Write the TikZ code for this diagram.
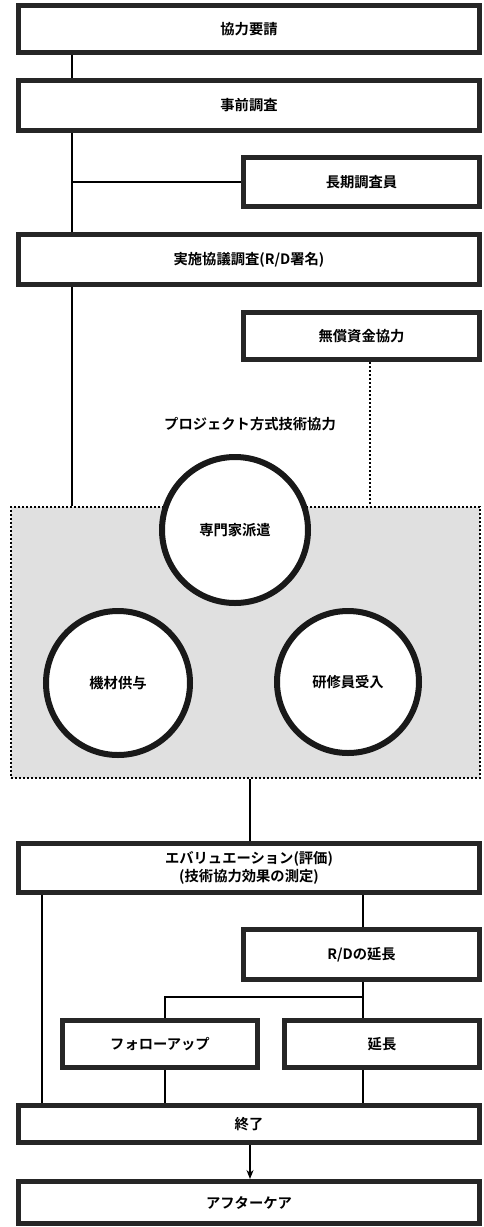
\documentclass[tikz,border=0pt]{standalone}
\usepackage{fontspec}
\newfontfamily\jpfont{Noto Sans CJK JP}[BoldFont={* Bold}]
\usetikzlibrary{arrows.meta}
\begin{document}
\begin{tikzpicture}[x=1pt,y=-1pt,
  box/.style={draw=black!85, line width=5pt, fill=white, inner sep=0pt,
    font=\jpfont\bfseries\fontsize{14.3}{17.5}\selectfont, align=center},
  wide/.style={box, minimum width=461pt},
  half/.style={box, minimum width=236pt},
  small/.style={box, minimum width=195pt},
  circ/.style={circle, draw=black!90, line width=6pt, fill=white, inner sep=0pt,
    font=\jpfont\bfseries\fontsize{14.3}{17.5}\selectfont},
  link/.style={line width=1.3pt},
  dlink/.style={line width=2pt, dotted},
  lbl/.style={font=\jpfont\bfseries\fontsize{14.3}{17.5}\selectfont}
]
\useasboundingbox (0,0) rectangle (484,1227);
\fill[white] (0,0) rectangle (484,1227);

\node[wide, minimum height=47pt] (n1) at (249,29) {協力要請};
\node[wide, minimum height=50pt] (n2) at (249,105.5) {事前調査};
\node[half, minimum height=49pt] (n3) at (361.5,182) {長期調査員};
\node[wide, minimum height=50pt] (n4) at (249,259.5) {実施協議調査(R/D署名)};
\node[half, minimum height=47pt] (n5) at (361.5,336) {無償資金協力};

\node[lbl] (plbl) at (250,424) {プロジェクト方式技術協力};
\node[draw, dotted, line width=2pt, fill=black!12, minimum width=469pt,
  minimum height=271pt, inner sep=0pt] (pb) at (245.5,642.5) {};
\node[circ, minimum size=146pt] (c1) at (235,530) {専門家派遣};
\node[circ, minimum size=144pt] (c2) at (118,683) {機材供与};
\node[circ, minimum size=142pt] (c3) at (348,682) {研修員受入};

\node[wide, minimum height=49pt] (ev) at (249,868) {エバリュエーション(評価)\\(技術協力効果の測定)};
\node[half, minimum height=50pt] (rd) at (361.5,954.5) {R/Dの延長};
\node[small, minimum height=47pt] (fu) at (160,1044) {フォローアップ};
\node[small, minimum height=47pt] (ex) at (382,1044) {延長};
\node[wide, minimum height=37pt] (en) at (249,1124) {終了};
\node[wide, minimum height=42pt] (ac) at (249,1202.5) {アフターケア};

\coordinate (xa) at (72,0);
\coordinate (xd) at (370,0);
\coordinate (xm) at (250,0);
\coordinate (xl) at (42,0);
\coordinate (xr) at (363,0);
\coordinate (xf) at (165,0);
\coordinate (j) at (363,997);

\draw[link] (n1.south -| xa) -- (n2.north -| xa);
\draw[link] (n2.south -| xa) -- (n4.north -| xa);
\draw[link] (xa |- n3.west) -- (n3.west);
\draw[link] (n4.south -| xa) -- (pb.north -| xa);
\draw[dlink] (n5.south -| xd) -- (pb.north -| xd);
\draw[link] (pb.south -| xm) -- (ev.north -| xm);
\draw[link] (ev.south -| xl) -- (en.north -| xl);
\draw[link] (ev.south -| xr) -- (rd.north -| xr);
\draw[link] (rd.south -| xr) -- (ex.north -| xr);
\draw[link] (j) -| (fu.north -| xf);
\draw[link] (fu.south -| xf) -- (en.north -| xf);
\draw[link] (ex.south -| xr) -- (en.north -| xr);
\draw[link, -{Stealth[length=9pt,width=7pt]}] (en.south -| xm) -- (ac.north -| xm);
\end{tikzpicture}
\end{document}
